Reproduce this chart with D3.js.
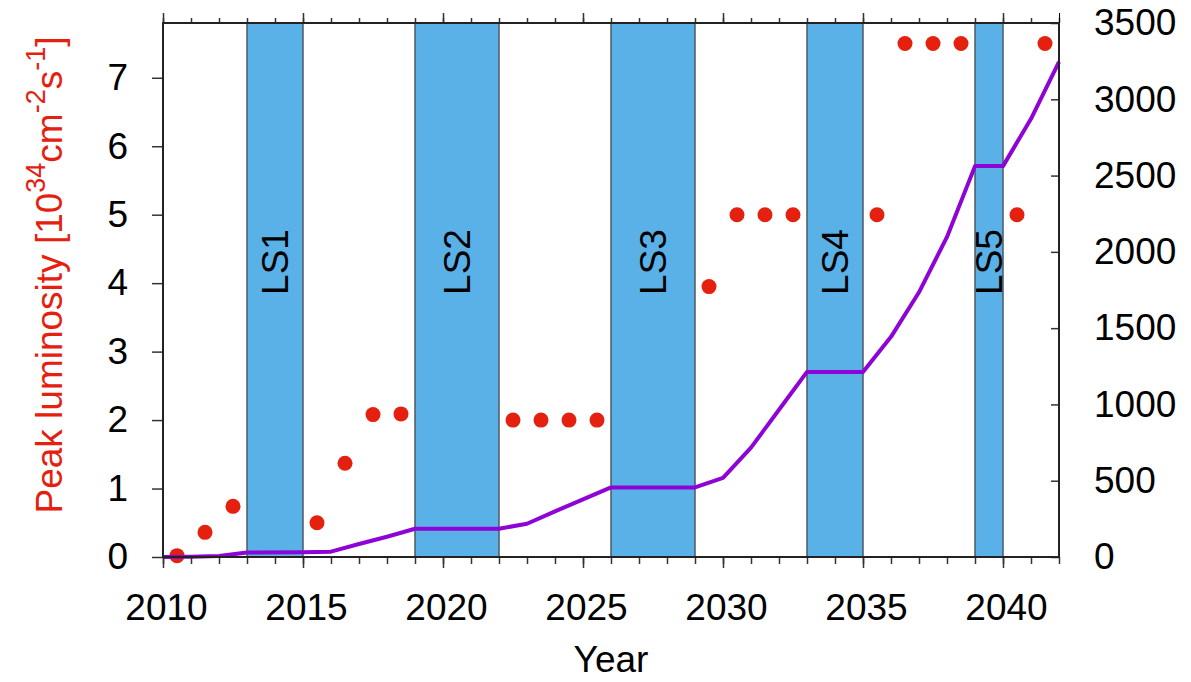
<!DOCTYPE html>
<html>
<head>
<meta charset="utf-8">
<script src="https://cdn.jsdelivr.net/npm/d3@7"></script>
<style>
  html, body { margin: 0; padding: 0; background: #fff; }
  svg { display: block; font-family: "Liberation Sans", Arial, Helvetica, sans-serif; }
</style>
</head>
<body>
<svg id="chart" width="1191" height="682"></svg>
<script>
// Long shutdowns
const shutdownNames = ["LS1", "LS2", "LS3", "LS4", "LS5"];
const shutdownStart = [2013, 2019, 2026, 2033, 2039];
const shutdownEnd   = [2015, 2022, 2029, 2035, 2040];

// Peak luminosity per year [10^34 cm^-2 s^-1] (left axis)
const peakYears = [2010.5, 2011.5, 2012.5, 2015.5, 2016.5, 2017.5, 2018.5,
                   2022.5, 2023.5, 2024.5, 2025.5, 2029.5, 2030.5, 2031.5, 2032.5,
                   2035.5, 2036.5, 2037.5, 2038.5, 2040.5, 2041.5];
const peakLumi  = [0.02, 0.36, 0.74, 0.5, 1.37, 2.08, 2.09,
                   2.0, 2.0, 2.0, 2.0, 3.95, 5.0, 5.0, 5.0,
                   5.0, 7.5, 7.5, 7.5, 5.0, 7.5];

// Integrated luminosity (right axis)
const intYears = [2010, 2011, 2012, 2013, 2015, 2016, 2017, 2018, 2019, 2022, 2023,
                  2024, 2025, 2026, 2029, 2030, 2031, 2032, 2033, 2035, 2036, 2037,
                  2038, 2039, 2040, 2041, 2042];
const intLumi  = [0, 1, 6, 30, 31, 35, 85, 133, 185, 185, 218,
                  299, 378, 456, 456, 518, 717, 965, 1213, 1213, 1443, 1735,
                  2098, 2562, 2562, 2872, 3245];

// Tick values
const xMajorTicks = [2010, 2015, 2020, 2025, 2030, 2035, 2040];
const leftTicks = [0, 1, 2, 3, 4, 5, 6, 7];
const rightTicks = [0, 500, 1000, 1500, 2000, 2500, 3000, 3500];

const svg = d3.select("#chart");
const L = 163, R = 1059, T = 23, B = 557;

const x = d3.scaleLinear().domain([2010, 2042]).range([L, R]);
const yL = d3.scaleLinear().domain([0, 7.8]).range([B, T]);
const yR = d3.scaleLinear().domain([0, 3500]).range([B, T]);

const FONT = 37;
const red = "#e5200f";
const purple = "#8e04d6";
const blue = "#5ab1e7";

// plot background
svg.append("rect").attr("x", L).attr("y", T).attr("width", R - L).attr("height", B - T).attr("fill", "#fff");

// shutdown bands
const bands = svg.append("g");
shutdownNames.forEach((name, i) => {
  bands.append("rect")
    .attr("x", x(shutdownStart[i]))
    .attr("y", T)
    .attr("width", x(shutdownEnd[i]) - x(shutdownStart[i]))
    .attr("height", B - T)
    .attr("fill", blue)
    .attr("stroke", "#4d5a63")
    .attr("stroke-width", 1.5);
  const cx = (x(shutdownStart[i]) + x(shutdownEnd[i])) / 2;
  bands.append("text")
    .attr("transform", `translate(${cx + 13},262) rotate(-90)`)
    .attr("text-anchor", "middle")
    .attr("font-size", FONT)
    .attr("fill", "#000")
    .text(name);
});

// peak luminosity dots
svg.append("g").selectAll("circle")
  .data(peakYears.map((yr, i) => [yr, peakLumi[i]]))
  .join("circle")
  .attr("cx", d => x(d[0]))
  .attr("cy", d => yL(d[1]))
  .attr("r", 7.5)
  .attr("fill", red);

// integrated luminosity line
const line = d3.line().x(d => x(d[0])).y(d => yR(d[1]));
svg.append("path")
  .datum(intYears.map((yr, i) => [yr, intLumi[i]]))
  .attr("d", line)
  .attr("fill", "none")
  .attr("stroke", purple)
  .attr("stroke-width", 4)
  .attr("stroke-linejoin", "round");

// bottom axis: major and minor ticks
const years = d3.range(2010, 2043);
const bottomAxis = d3.axisBottom(x).tickValues(years).tickSize(7).tickFormat("");
const gB = svg.append("g").attr("transform", `translate(0,${B})`).call(bottomAxis);
const bottomMajor = d3.axisBottom(x).tickValues(xMajorTicks).tickSize(11).tickPadding(26).tickFormat(d3.format("d"));
const gBM = svg.append("g").attr("transform", `translate(0,${B})`).call(bottomMajor);
gBM.selectAll("text").attr("font-size", FONT).attr("fill", "#000").attr("font-family", null).attr("dx", 3);

// top axis ticks
const topAxis = d3.axisTop(x).tickValues(years).tickSize(5).tickFormat("");
svg.append("g").attr("transform", `translate(0,${T})`).call(topAxis);
const topMajor = d3.axisTop(x).tickValues(xMajorTicks).tickSize(10).tickFormat("");
svg.append("g").attr("transform", `translate(0,${T})`).call(topMajor);

// left axis
const leftAxis = d3.axisLeft(yL).tickValues(leftTicks).tickSize(11).tickPadding(24).tickFormat(d3.format("d"));
const gL = svg.append("g").attr("transform", `translate(${L},0)`).call(leftAxis);
gL.selectAll("text").attr("font-size", FONT).attr("fill", "#000").attr("font-family", null);

// right axis: ticks point inward
const rightAxis = d3.axisRight(yR).tickValues(rightTicks).tickSize(-8).tickPadding(35).tickFormat(d3.format("d"));
const gR = svg.append("g").attr("transform", `translate(${R},0)`).call(rightAxis);
gR.selectAll("text").attr("font-size", FONT).attr("fill", "#000").attr("font-family", null);

[gB, gBM, gL, gR].forEach(g => g.select(".domain").remove());
svg.selectAll(".tick line").attr("stroke", "#333").attr("stroke-width", 1.5);

// frame
svg.append("rect").attr("x", L).attr("y", T).attr("width", R - L).attr("height", B - T)
  .attr("fill", "none").attr("stroke", "#222").attr("stroke-width", 2);

// axis titles
svg.append("text")
  .attr("x", (L + R) / 2).attr("y", 672)
  .attr("text-anchor", "middle")
  .attr("font-size", FONT)
  .attr("fill", "#000")
  .text("Year");

const yTitle = svg.append("text")
  .attr("transform", "translate(62,275) rotate(-90)")
  .attr("text-anchor", "middle")
  .attr("font-size", FONT)
  .attr("fill", red);
yTitle.append("tspan").text("Peak luminosity [10");
yTitle.append("tspan").attr("font-size", 27).attr("dy", -17).text("34");
yTitle.append("tspan").attr("dy", 17).text("cm");
yTitle.append("tspan").attr("font-size", 27).attr("dy", -17).text("-2");
yTitle.append("tspan").attr("dy", 17).text("s");
yTitle.append("tspan").attr("font-size", 27).attr("dy", -17).text("-1");
yTitle.append("tspan").attr("dy", 17).text("]");
</script>
</body>
</html>
